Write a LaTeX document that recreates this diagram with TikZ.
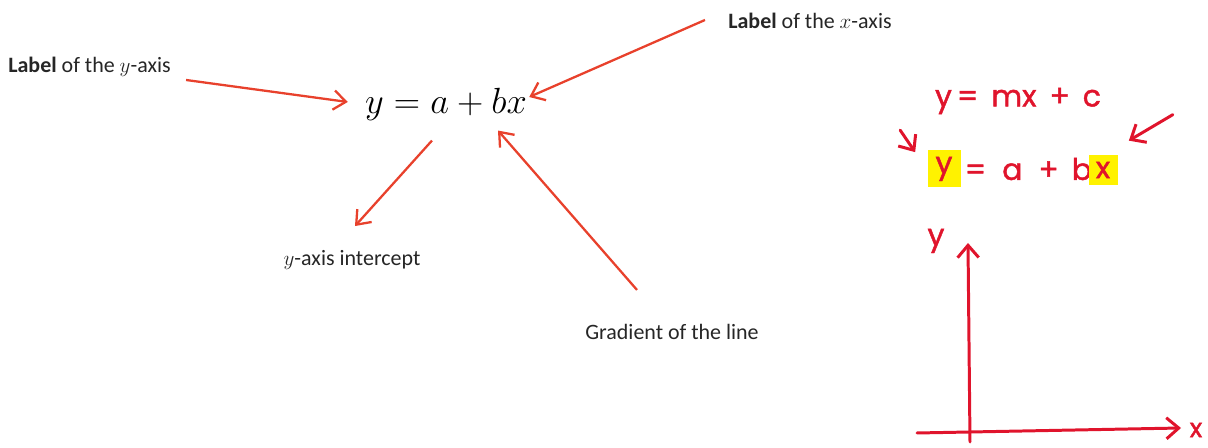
\documentclass[tikz,border=0pt]{standalone}
\usepackage{fontspec}
\setmainfont{Carlito}
\newfontfamily\handfont[FakeBold=1.5]{Poppins}
\usepackage{tikz}
\usetikzlibrary{arrows.meta}
\definecolor{arrowred}{HTML}{E8412C}
\definecolor{penred}{HTML}{E0142C}
\definecolor{marker}{HTML}{FFF200}

\begin{document}
\begin{tikzpicture}[x=0.02cm,y=-0.02cm,
  pointer/.style={arrowred,line width=1.3pt,-{Straight Barb[length=7pt,width=11pt]}},
  pen/.style={penred,line width=1.7pt,line cap=round,-{Straight Barb[length=7pt,width=12pt]}},
  lbl/.style={inner sep=0pt,text=black!85,font=\fontsize{12.5}{14}\selectfont},
  hand/.style={inner sep=0pt,text=penred,font=\handfont\fontsize{17}{19}\selectfont}]
  \useasboundingbox (0,0) rectangle (1208,448);

  % printed part
  \node[inner sep=0pt,font=\fontsize{19.5}{22}\selectfont] (eqn) at (446,104) {$y=a+bx$};
  \node[lbl,anchor=west] (ylab) at (8,67) {\textbf{Label} of the $y$-axis};
  \node[lbl,anchor=west] (xlab) at (728,21) {\textbf{Label} of the $x$-axis};
  \node[lbl] (icpt) at (352,260) {$y$-axis intercept};
  \node[lbl] (grad) at (672,332) {Gradient of the line};

  \draw[pointer] ([shift={(15,13)}]ylab.east) -- ([shift={(-17,-2)}]eqn.west);
  \draw[pointer] ([shift={(-23,-1)}]xlab.west) -- ([shift={(2,-7)}]eqn.east);
  \draw[pointer] ([shift={(-14,20)}]eqn.south) -- ([shift={(3,-24)}]icpt.north);
  \draw[pointer] ([shift={(-35,-34)}]grad.north) -- ([shift={(52,10)}]eqn.south);

  % handwritten part
  \node[hand] (mxc) at (1018,101) {y\,=\ \,mx\ \,+\ \,c};
  \node[hand,fill=marker,minimum width=0.66cm,minimum height=0.74cm] (hy) at (944,169) {y};
  \node[hand,anchor=west] (abx) at ([xshift=2pt]hy.east) {=\ \ a\ \ +\ \,b};
  \node[hand,fill=marker,minimum width=0.58cm,minimum height=0.6cm] (hx) at (1103,170) {x};
  \draw[pen] ([shift={(-27,-20)}]hy.north west) -- ([shift={(-12,2)}]hy.north west);
  \draw[pen] ([shift={(55,-40)}]hx.north east) -- ([shift={(11,-14)}]hx.north east);

  \coordinate (ybot) at (970,442);
  \coordinate (ytop) at (968,243);
  \coordinate (xleft) at (917,433);
  \coordinate (xright) at (1181,428);
  \draw[pen] (ybot) -- (ytop);
  \draw[pen] (xleft) -- (xright);
  \node[hand] (ylbl) at (936,241) {y};
  \node[hand,font=\handfont\fontsize{15}{17}\selectfont] (xlbl) at (1196,430) {x};
\end{tikzpicture}
\end{document}
